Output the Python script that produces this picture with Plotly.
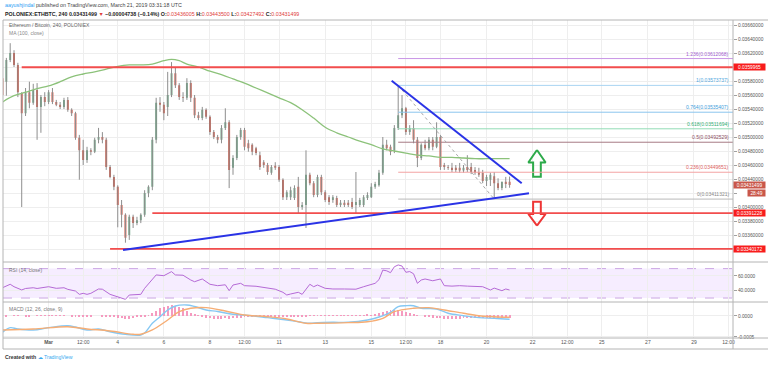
import pandas as pd
import plotly.graph_objects as go

# ------------------------------------------------------------------ data
start = pd.Timestamp("2019-02-27 00:00")
step = pd.Timedelta(hours=4)

opens = [
    0.03584, 0.03579, 0.03610, 0.03620, 0.03603, 0.03563, 0.03534, 0.03564, 0.03549, 0.03567,
    0.03543, 0.03557, 0.03550, 0.03564, 0.03550, 0.03546, 0.03543, 0.03553, 0.03539, 0.03534,
    0.03499, 0.03481, 0.03467, 0.03481, 0.03479, 0.03496, 0.03500, 0.03496, 0.03457, 0.03443,
    0.03429, 0.03403, 0.03389, 0.03360, 0.03386, 0.03377, 0.03381, 0.03389, 0.03420, 0.03429,
    0.03496, 0.03549, 0.03546, 0.03543, 0.03560, 0.03591, 0.03574, 0.03557, 0.03556, 0.03577,
    0.03556, 0.03531, 0.03527, 0.03539, 0.03529, 0.03507, 0.03500, 0.03496, 0.03513, 0.03521,
    0.03456, 0.03470, 0.03500, 0.03510, 0.03491, 0.03489, 0.03484, 0.03474, 0.03464, 0.03460,
    0.03449, 0.03459, 0.03457, 0.03439, 0.03414, 0.03414, 0.03413, 0.03429, 0.03400, 0.03403,
    0.03446, 0.03434, 0.03417, 0.03443, 0.03421, 0.03414, 0.03410, 0.03413, 0.03403, 0.03406,
    0.03406, 0.03407, 0.03403, 0.03403, 0.03403, 0.03413, 0.03414, 0.03429, 0.03431, 0.03449,
    0.03489, 0.03486, 0.03481, 0.03513, 0.03531, 0.03541, 0.03507, 0.03513, 0.03496, 0.03470,
    0.03489, 0.03484, 0.03496, 0.03486, 0.03500, 0.03460, 0.03457, 0.03456, 0.03456, 0.03456,
    0.03452, 0.03457, 0.03457, 0.03453, 0.03450, 0.03449, 0.03437, 0.03439, 0.03444, 0.03434,
    0.03427, 0.03436, 0.03436005,
]
highs = [
    0.03589, 0.03613, 0.03634, 0.03624, 0.03606, 0.03564, 0.03570, 0.03579, 0.03576, 0.03577,
    0.03560, 0.03564, 0.03567, 0.03570, 0.03553, 0.03550, 0.03556, 0.03557, 0.03541, 0.03536,
    0.03503, 0.03496, 0.03486, 0.03484, 0.03499, 0.03513, 0.03507, 0.03499, 0.03460, 0.03446,
    0.03431, 0.03410, 0.03391, 0.03389, 0.03389, 0.03386, 0.03391, 0.03424, 0.03431, 0.03500,
    0.03556, 0.03557, 0.03550, 0.03593, 0.03607, 0.03600, 0.03577, 0.03564, 0.03584, 0.03581,
    0.03560, 0.03536, 0.03543, 0.03541, 0.03531, 0.03510, 0.03503, 0.03517, 0.03541, 0.03524,
    0.03474, 0.03503, 0.03513, 0.03513, 0.03496, 0.03491, 0.03486, 0.03479, 0.03467, 0.03463,
    0.03460, 0.03464, 0.03460, 0.03441, 0.03424, 0.03429, 0.03431, 0.03443, 0.03407, 0.03481,
    0.03449, 0.03437, 0.03446, 0.03446, 0.03424, 0.03417, 0.03417, 0.03416, 0.03410, 0.03410,
    0.03410, 0.03413, 0.03450, 0.03413, 0.03417, 0.03421, 0.03434, 0.03436, 0.03453, 0.03500,
    0.03496, 0.03489, 0.03517, 0.03573737, 0.03560, 0.03543, 0.03517, 0.03524, 0.03500, 0.03491,
    0.03496, 0.03500, 0.03500, 0.03521, 0.03503, 0.03463, 0.03460, 0.03463, 0.03460, 0.03463,
    0.03460, 0.03474, 0.03463, 0.03457, 0.03456, 0.03453, 0.03446, 0.03449, 0.03450, 0.03441,
    0.03436, 0.03443, 0.03443500,
]
lows = [
    0.03556, 0.03559, 0.03607, 0.03600, 0.03557, 0.03400, 0.03530, 0.03541, 0.03546, 0.03496,
    0.03506, 0.03544, 0.03547, 0.03547, 0.03544, 0.03540, 0.03540, 0.03536, 0.03530, 0.03496,
    0.03439, 0.03460, 0.03463, 0.03474, 0.03477, 0.03491, 0.03491, 0.03453, 0.03441, 0.03424,
    0.03371, 0.03371, 0.03349, 0.03353, 0.03370, 0.03374, 0.03377, 0.03386, 0.03414, 0.03424,
    0.03491, 0.03536, 0.03524, 0.03530, 0.03557, 0.03570, 0.03553, 0.03550, 0.03553, 0.03550,
    0.03527, 0.03524, 0.03524, 0.03526, 0.03503, 0.03497, 0.03491, 0.03491, 0.03510, 0.03427,
    0.03446, 0.03467, 0.03496, 0.03481, 0.03479, 0.03474, 0.03474, 0.03453, 0.03456, 0.03446,
    0.03446, 0.03453, 0.03436, 0.03410, 0.03410, 0.03410, 0.03410, 0.03391, 0.03396, 0.03370,
    0.03431, 0.03414, 0.03414, 0.03417, 0.03407, 0.03403, 0.03406, 0.03400, 0.03400, 0.03400,
    0.03400, 0.03397, 0.03391, 0.03400, 0.03400, 0.03410, 0.03413, 0.03426, 0.03429, 0.03446,
    0.03481, 0.03474, 0.03477, 0.03510, 0.03527, 0.03503, 0.03503, 0.03491, 0.03457, 0.03467,
    0.03481, 0.03481, 0.03481, 0.03484, 0.03453, 0.03453, 0.03453, 0.03450, 0.03450, 0.03449,
    0.03449, 0.03450, 0.03447, 0.03446, 0.03443, 0.03434, 0.03430, 0.03430, 0.03411321, 0.03424,
    0.03424, 0.03427, 0.03427492,
]
closes = [
    0.03560, 0.03610, 0.03620, 0.03603, 0.03564, 0.03534, 0.03564, 0.03549, 0.03567, 0.03543,
    0.03557, 0.03550, 0.03564, 0.03550, 0.03546, 0.03543, 0.03553, 0.03539, 0.03534, 0.03499,
    0.03481, 0.03467, 0.03481, 0.03479, 0.03496, 0.03500, 0.03496, 0.03457, 0.03443, 0.03429,
    0.03403, 0.03389, 0.03356, 0.03386, 0.03377, 0.03381, 0.03389, 0.03420, 0.03429, 0.03496,
    0.03549, 0.03546, 0.03534, 0.03560, 0.03591, 0.03574, 0.03557, 0.03556, 0.03577, 0.03556,
    0.03531, 0.03527, 0.03539, 0.03529, 0.03507, 0.03500, 0.03496, 0.03513, 0.03521, 0.03453,
    0.03470, 0.03500, 0.03510, 0.03486, 0.03484, 0.03479, 0.03477, 0.03457, 0.03460, 0.03450,
    0.03457, 0.03456, 0.03439, 0.03414, 0.03421, 0.03424, 0.03427, 0.03400, 0.03403, 0.03446,
    0.03434, 0.03417, 0.03443, 0.03421, 0.03410, 0.03407, 0.03414, 0.03403, 0.03406, 0.03403,
    0.03403, 0.03400, 0.03407, 0.03410, 0.03414, 0.03417, 0.03429, 0.03433, 0.03449, 0.03489,
    0.03484, 0.03479, 0.03513, 0.03531, 0.03541, 0.03507, 0.03513, 0.03496, 0.03470, 0.03489,
    0.03484, 0.03496, 0.03486, 0.03500, 0.03457, 0.03457, 0.03456, 0.03453, 0.03453, 0.03452,
    0.03456, 0.03453, 0.03450, 0.03449, 0.03446, 0.03437, 0.03443, 0.03446, 0.03434, 0.03427,
    0.03436, 0.03433, 0.03431499,
]

# MA(100) (candle index -> value)
ma_idx = [0, 3, 6, 9, 12, 15, 18, 21, 24, 27, 30, 33, 36, 39, 42, 44, 46, 48, 51, 54,
          57, 60, 63, 66, 69, 72, 75, 78, 81, 84, 87, 90, 93, 96, 99, 102, 105, 108, 111, 114,
          117, 120, 123, 126, 129, 132]
ma_val = [0.03550, 0.03559, 0.03564, 0.03569, 0.03573, 0.03579, 0.03586, 0.03590, 0.03593, 0.03597,
          0.03601, 0.03603, 0.03603, 0.03604, 0.03609, 0.03611, 0.03609, 0.03604, 0.03600, 0.03594,
          0.03589, 0.03583, 0.03577, 0.03570, 0.03563, 0.03556, 0.03549, 0.03539, 0.03527, 0.03514,
          0.03506, 0.03500, 0.03494, 0.03489, 0.03483, 0.03480, 0.03477, 0.03474, 0.03473, 0.03471,
          0.03471, 0.03470, 0.03469, 0.03469, 0.03469, 0.03469]

# RSI(14)
rsi_idx = [0, 2, 3, 5, 6, 8, 9, 10, 12, 14, 16, 17, 19, 20, 21, 22, 23, 25, 26, 28,
           30, 31, 32, 33, 36, 37, 39, 40, 42, 44, 45, 47, 49, 50, 52, 54, 56, 58, 59, 60,
           62, 63, 66, 69, 71, 73, 74, 75, 77, 78, 80, 81, 82, 84, 86, 89, 92, 94, 96, 97,
           98, 99, 100, 101, 102, 103, 104, 105, 106, 107, 108, 109, 110, 112, 114, 115, 117, 119, 121, 123,
           125, 127, 128, 130, 131, 132]
rsi_val = [44, 48.7, 45.4, 41, 43, 44, 43, 44, 45.4, 43.2, 44, 41.8, 39.5, 35, 36.4, 35, 36.4, 42.3, 42, 35,
           31.8, 29.6, 28.2, 34.1, 35, 43.2, 54.5, 61.4, 60.4, 65.9, 61.4, 61, 54.5, 52.2, 55.9, 48.7, 46.8, 48, 40, 47.7,
           50, 46.8, 46, 43.2, 42, 37.8, 34.1, 35.5, 37.8, 35, 48.7, 45.4, 47.7, 43.2, 42.3, 42.3, 42, 45.4, 48.7, 50,
           55, 68, 67, 64.5, 72.5, 75, 73.5, 65, 66, 63, 50, 54.5, 55.9, 53.5, 55.9, 46.8, 46.2, 46.8, 46.2, 46.2,
           45.4, 40.9, 43.5, 40, 42.3, 40.9]

# MACD(12, 26, close, 9)
macd_idx = [0, 2, 4, 8, 12, 17, 19, 22, 25, 28, 32, 36, 37, 39, 41, 43, 45, 48, 50, 53,
            56, 60, 64, 69, 73, 77, 80, 82, 86, 90, 95, 98, 101, 103, 105, 107, 109, 113, 116, 120,
            124, 128, 132]
macd_val = [-38.8e-5, -27.8e-5, -30.9e-5, -33.3e-5, -27.8e-5, -23.1e-5, -26.2e-5, -33.3e-5, -30.9e-5, -37.4e-5,
            -43.6e-5, -45.2e-5, -40.5e-5, -17.4e-5, -1.7e-5, 14.3e-5, 23.8e-5, 26.2e-5, 22.6e-5, 14.3e-5,
            10.7e-5, 4.0e-5, 1.2e-5, -4.0e-5, -8.3e-5, -13.6e-5, -17.4e-5, -15.9e-5, -15.0e-5, -15.0e-5,
            -9.5e-5, -2.4e-5, 8.8e-5, 22.1e-5, 24.5e-5, 24.5e-5, 18.3e-5, 16.7e-5, 6.4e-5, 0.7e-5,
            -4.0e-5, -5.5e-5, -7.9e-5]
sig_idx = [0, 8, 17, 22, 28, 34, 36, 39, 43, 46, 49, 53, 58, 63, 69, 74, 79, 82, 90, 95,
           99, 102, 107, 111, 115, 120, 124, 128, 132]
sig_val = [-33.3e-5, -30.9e-5, -25.5e-5, -30.9e-5, -35.7e-5, -43.6e-5, -43.6e-5, -33.3e-5, -9.5e-5, 10.2e-5,
           18.3e-5, 19.8e-5, 11.9e-5, 2.4e-5, -1.7e-5, -7.1e-5, -17.4e-5, -17.4e-5, -15.9e-5, -13.6e-5,
           -5.5e-5, 10.2e-5, 18.3e-5, 19.8e-5, 14.3e-5, 6.4e-5, 0.7e-5, -1.7e-5, -3.1e-5]
hist_val = [
    -2e-5, -1e-5, 0, 1e-5, 1e-5, 0, -1e-5, -1e-5, 0, 1e-5, 1e-5, 1e-5, 1e-5, 1e-5, 1e-5, 1e-5, 1e-5,
    0, -1e-5, -1e-5, -2e-5, -2e-5, -1e-5, -1e-5, 0, 0, -1e-5, -1e-5,
    -2e-5, -3e-5, -4e-5, -5e-5, -6e-5, -6e-5, -5e-5, -3e-5, -2e-5, -1e-5,
    2e-5, 6e-5, 12e-5, 18e-5, 22e-5, 24e-5, 25e-5, 24e-5, 22e-5, 18e-5,
    13e-5, 8e-5, 4e-5, 1e-5, -2e-5, -4e-5, -5e-5, -6e-5, -6e-5, -6e-5, -5e-5, -6e-5,
    -5e-5, -4e-5, -4e-5, -3e-5, -3e-5, -3e-5, -3e-5, -3e-5, -3e-5, -3e-5,
    -3e-5, -3e-5, -3e-5, -3e-5, -3e-5, -3e-5, -3e-5, -3e-5, -2e-5, -1e-5,
    1e-5, 1e-5, 1e-5, 1e-5, 1e-5, 1e-5, 1e-5, 1e-5, 1e-5, 1e-5, 1e-5, 1e-5, 1e-5, 2e-5, 2e-5, 3e-5,
    2e-5, 4e-5, 6e-5, 9e-5, 12e-5, 14e-5, 15e-5, 15e-5, 13e-5, 10e-5, 6e-5, 3e-5,
    2e-5, 0, -2e-5, -3e-5, -4e-5, -5e-5, -5e-5, -6e-5, -6e-5, -6e-5, -6e-5, -6e-5, -5e-5,
    -5e-5, -5e-5, -5e-5, -5e-5, -5e-5, -4e-5, -4e-5, -4e-5, -4e-5, -4e-5, -4e-5, -4e-5,
]

# axis ticks
price_ticks = [0.0334, 0.0336, 0.0338, 0.0340, 0.0342, 0.0344, 0.0346, 0.0348, 0.0350,
               0.0352, 0.0354, 0.0356, 0.0358, 0.0360, 0.0362, 0.0364, 0.0366]
price_hidden = [0.0334, 0.0342, 0.0360]
x_tickvals = ["2019-02-27", "2019-03-01", "2019-03-02 12:00", "2019-03-04", "2019-03-06",
              "2019-03-08", "2019-03-09 12:00", "2019-03-11", "2019-03-13", "2019-03-15",
              "2019-03-16 12:00", "2019-03-18", "2019-03-20", "2019-03-22", "2019-03-23 12:00",
              "2019-03-25", "2019-03-27", "2019-03-29", "2019-03-30 12:00"]
x_ticktext = ["27", "<b>Mar</b>", "12:00", "4", "6", "8", "12:00", "11", "13", "15", "12:00",
              "18", "20", "22", "12:00", "25", "27", "29", "12:00"]
x_range = ["2019-02-27 00:31", "2019-03-30 16:37"]

# drawings
fib_levels = ["1.236", "1", "0.764", "0.618", "0.5", "0.236", "0"]
fib_prices = [0.03612068, 0.03573737, 0.03535407, 0.03511694, 0.03492529, 0.03449651, 0.03411321]
fib_line_colors = ["#c996e6", "#a9d4f2", "#8cc6ee", "#92dcb6", "#a77a84", "#f3a3a3", "#b9b9b9"]
fib_text_colors = ["#a45fd0", "#52a8e0", "#3e9edb", "#36b176", "#8d4f5f", "#e06464", "#8a8a8a"]
fib_start = "2019-03-16 04:00"
fib_low_time = "2019-03-20 08:00"

sr_prices = [0.0359965, 0.03391228, 0.03340172]
sr_starts = ["2019-02-27 20:00", "2019-03-05 12:00", "2019-03-03 16:00"]

rise_line = [("2019-03-04 05:30", 0.0333857), ("2019-03-21 20:12", 0.0341957)]
fall_line = [("2019-03-15 21:12", 0.0358043), ("2019-03-21 12:36", 0.0343386)]

arrow_time = "2019-03-22 04:30"
up_arrow = (0.034814, 0.034636, 0.034433)     # tip, head base, tail
down_arrow = (0.034076, 0.033900, 0.033733)   # tail, head base, tip

last_price = 0.03431499
countdown = "28:49"

# ------------------------------------------------------------------ geometry helpers
W, H = 768, 365
ML, MR, MT, MB = 3, 35, 20, 27
PW, PH = W - ML - MR, H - MT - MB


def fx(px):
    return (px - ML) / PW


def fy(py):
    return (H - MB - py) / PH


FONT = "Liberation Sans, Arial, sans-serif"
UP, DN = "#6ba583", "#d75442"

times = [start + step * i for i in range(len(opens))]


def tidx(idx):
    return [start + step * i for i in idx]


fig = go.Figure()

# wicks
wx, wy = [], []
for t, lo, hi in zip(times, lows, highs):
    wx += [t, t, None]
    wy += [lo, hi, None]
fig.add_trace(go.Scatter(x=wx, y=wy, mode="lines", line=dict(color="#8e8e8e", width=1),
                         hoverinfo="skip", showlegend=False))
fig.add_trace(go.Candlestick(
    x=times, open=opens, high=highs, low=lows, close=closes,
    increasing=dict(fillcolor=UP, line=dict(color=UP, width=0)),
    decreasing=dict(fillcolor=DN, line=dict(color=DN, width=0)),
    whiskerwidth=0, showlegend=False))
fig.add_trace(go.Scatter(x=tidx(ma_idx), y=ma_val, mode="lines",
                         line=dict(color="#8cc27a", width=1.3, shape="spline"), showlegend=False))

# arrows (drawings)
ah, sh = pd.Timedelta(hours=9), pd.Timedelta(hours=4)
c = pd.Timestamp(arrow_time)
tip, hb, tail = up_arrow
fig.add_trace(go.Scatter(
    x=[c, c + ah, c + sh, c + sh, c - sh, c - sh, c - ah, c],
    y=[tip, hb, hb, tail, tail, hb, hb, tip], mode="lines",
    line=dict(color="#2daa4a", width=2), showlegend=False, hoverinfo="skip"))
tail, hb, tip = down_arrow
fig.add_trace(go.Scatter(
    x=[c, c + ah, c + sh, c + sh, c - sh, c - sh, c - ah, c],
    y=[tip, hb, hb, tail, tail, hb, hb, tip], mode="lines",
    line=dict(color="#ee3535", width=2), showlegend=False, hoverinfo="skip"))

# RSI
fig.add_trace(go.Scatter(x=tidx(rsi_idx), y=rsi_val, mode="lines", yaxis="y2",
                         line=dict(color="#b56ad6", width=1), showlegend=False))
# MACD
fig.add_trace(go.Bar(x=times, y=hist_val, yaxis="y3", marker=dict(color="#f59abf", line=dict(width=0)),
                     width=3600 * 1000 * 1.0, showlegend=False))
fig.add_trace(go.Scatter(x=tidx(macd_idx), y=macd_val, mode="lines", yaxis="y3",
                         line=dict(color="#86c8f3", width=1.4, shape="spline"), showlegend=False))
fig.add_trace(go.Scatter(x=tidx(sig_idx), y=sig_val, mode="lines", yaxis="y3",
                         line=dict(color="#f6ad74", width=1.4, shape="spline"), showlegend=False))

shapes = []
# RSI band
shapes.append(dict(type="rect", xref="paper", yref="y2", x0=0, x1=1, y0=30, y1=70,
                   fillcolor="rgba(170, 90, 255, 0.11)", line=dict(width=0), layer="below"))
for lv in (30, 70):
    shapes.append(dict(type="line", xref="paper", yref="y2", x0=0, x1=1, y0=lv, y1=lv,
                       line=dict(color="#cba6e3", width=1, dash="dash"), layer="below"))
# support / resistance
for p, s in zip(sr_prices, sr_starts):
    shapes.append(dict(type="line", xref="x", yref="y", x0=s, x1=x_range[1], y0=p, y1=p,
                       line=dict(color="#f24d4d", width=1.8)))
# fib
for p, col in zip(fib_prices, fib_line_colors):
    shapes.append(dict(type="line", xref="x", yref="y", x0=fib_start, x1=x_range[1], y0=p, y1=p,
                       line=dict(color=col, width=1)))
shapes.append(dict(type="line", xref="x", yref="y", x0=fib_start, x1=fib_low_time,
                   y0=fib_prices[1], y1=fib_prices[-1], line=dict(color="#a8a8a8", width=1, dash="dot")))
# trend lines
for (t0, p0), (t1, p1) in (rise_line, fall_line):
    shapes.append(dict(type="line", xref="x", yref="y", x0=t0, x1=t1, y0=p0, y1=p1,
                       line=dict(color="#2a33e6", width=2)))
# frame
FR = "#b4b4b4"
for py in (20, 262, 302, 338, 349):
    shapes.append(dict(type="line", xref="paper", yref="paper", x0=fx(3), x1=fx(768), y0=fy(py), y1=fy(py),
                       line=dict(color=FR, width=1)))
for px in (3, 733):
    shapes.append(dict(type="line", xref="paper", yref="paper", x0=fx(px), x1=fx(px), y0=fy(20), y1=fy(349),
                       line=dict(color=FR, width=1)))

ann = []


def txt(x, y, text, size=5.2, color="#444", anchor="left"):
    ann.append(dict(x=fx(x), y=fy(y), xref="paper", yref="paper", text=text, showarrow=False,
                    xanchor=anchor, yanchor="middle", font=dict(family=FONT, size=size, color=color)))


txt(3, 5, "<span style='color:#2a9df4'>aayushjindal</span> published on TradingView.com, March 21, 2019 03:31:18 UTC",
    size=5.3, color="#444")
R_ = "#e0403a"
txt(3, 14, "<b>POLONIEX:ETHBTC, 240</b> <b>0.03431499</b> <span style='color:%s'>▼</span> "
           "<b>−0.00004738 (−0.14%%)</b> <b>O:</b><span style='color:%s'>0.03436005</span> "
           "<b>H:</b><span style='color:%s'>0.03443500</span> <b>L:</b><span style='color:%s'>0.03427492</span> "
           "<b>C:</b><span style='color:%s'>0.03431499</span>" % (R_, R_, R_, R_, R_),
    size=5.3, color="#222")
txt(7, 25, "Ethereum / Bitcoin, 240, POLONIEX", size=5, color="#666")
txt(7, 33, "MA (100, close)", size=5, color="#888")
txt(7, 270, "RSI (14, close)", size=5, color="#777")
txt(7, 309, "MACD (12, 26, close, 9)", size=5, color="#777")
txt(3, 357, "<b>Created with</b> <span style='color:#39a9ef'>☁ TradingView</span>", size=5.2, color="#333")

# fib labels
for lv, p, col in zip(fib_levels, fib_prices, fib_text_colors):
    ann.append(dict(x=1, y=p, xref="paper", yref="y", text="%s(%.8f)" % (lv, p), showarrow=False,
                    xanchor="right", yanchor="bottom", xshift=-2, yshift=0,
                    font=dict(family=FONT, size=5, color=col)))
# price boxes
for p in sr_prices:
    txtp = ("%.8f" % p).rstrip("0")
    ann.append(dict(x=1, y=p, xref="paper", yref="y", text=txtp, showarrow=False, xanchor="left",
                    yanchor="middle", bgcolor="#f81c1c", width=30, height=5, borderpad=0.6,
                    font=dict(family=FONT, size=4.8, color="white")))
ann.append(dict(x=1, y=last_price, xref="paper", yref="y", text="%.8f" % last_price, showarrow=False,
                xanchor="left", yanchor="middle", bgcolor="#c9574a", width=30, height=5, borderpad=0.6,
                font=dict(family=FONT, size=4.8, color="white")))
ann.append(dict(x=1, y=last_price, xref="paper", yref="y", text=countdown, showarrow=False,
                xanchor="left", yanchor="middle", xshift=14, yshift=-8.5, bgcolor="#c9574a", width=16,
                height=5, borderpad=0.6, font=dict(family=FONT, size=4.8, color="white")))

GRID = "#eeeeee"
TF = dict(family=FONT, size=4.8, color="#555")
fig.update_layout(
    width=W, height=H, margin=dict(l=ML, r=MR, t=MT, b=MB),
    paper_bgcolor="white", plot_bgcolor="white", showlegend=False, bargap=0,
    xaxis=dict(type="date", range=x_range, anchor="y3", tickvals=x_tickvals, ticktext=x_ticktext,
               showgrid=True, gridcolor=GRID, gridwidth=1, zeroline=False, showline=False, ticks="",
               tickfont=dict(family=FONT, size=5, color="#555"), rangeslider=dict(visible=False)),
    yaxis=dict(domain=[fy(262), 1], range=[0.0332143, 0.0366714], side="right",
               tickvals=price_ticks,
               ticktext=["" if v in price_hidden else "%.8f" % v for v in price_ticks],
               showgrid=True, gridcolor=GRID, zeroline=False, showline=False,
               ticks="outside", ticklen=3, tickcolor="#a0a0a0", tickfont=TF),
    yaxis2=dict(domain=[fy(302), fy(262)], range=[24.6, 79], side="right", tickvals=[40, 60],
                ticktext=["40.0000", "60.0000"], showgrid=True, gridcolor=GRID, zeroline=False,
                ticks="outside", ticklen=3, tickcolor="#a0a0a0", tickfont=TF),
    yaxis3=dict(domain=[0, fy(302)], range=[-0.000524, 0.000333], side="right", tickvals=[-0.0005, 0],
                ticktext=["-0.0005", "0.0000"], showgrid=True, gridcolor=GRID, zeroline=False,
                ticks="outside", ticklen=3, tickcolor="#a0a0a0", tickfont=TF),
    shapes=shapes, annotations=ann,
)

fig.write_html("out.html", config={"displayModeBar": False},
               post_script="document.body.style.margin='0px';")
